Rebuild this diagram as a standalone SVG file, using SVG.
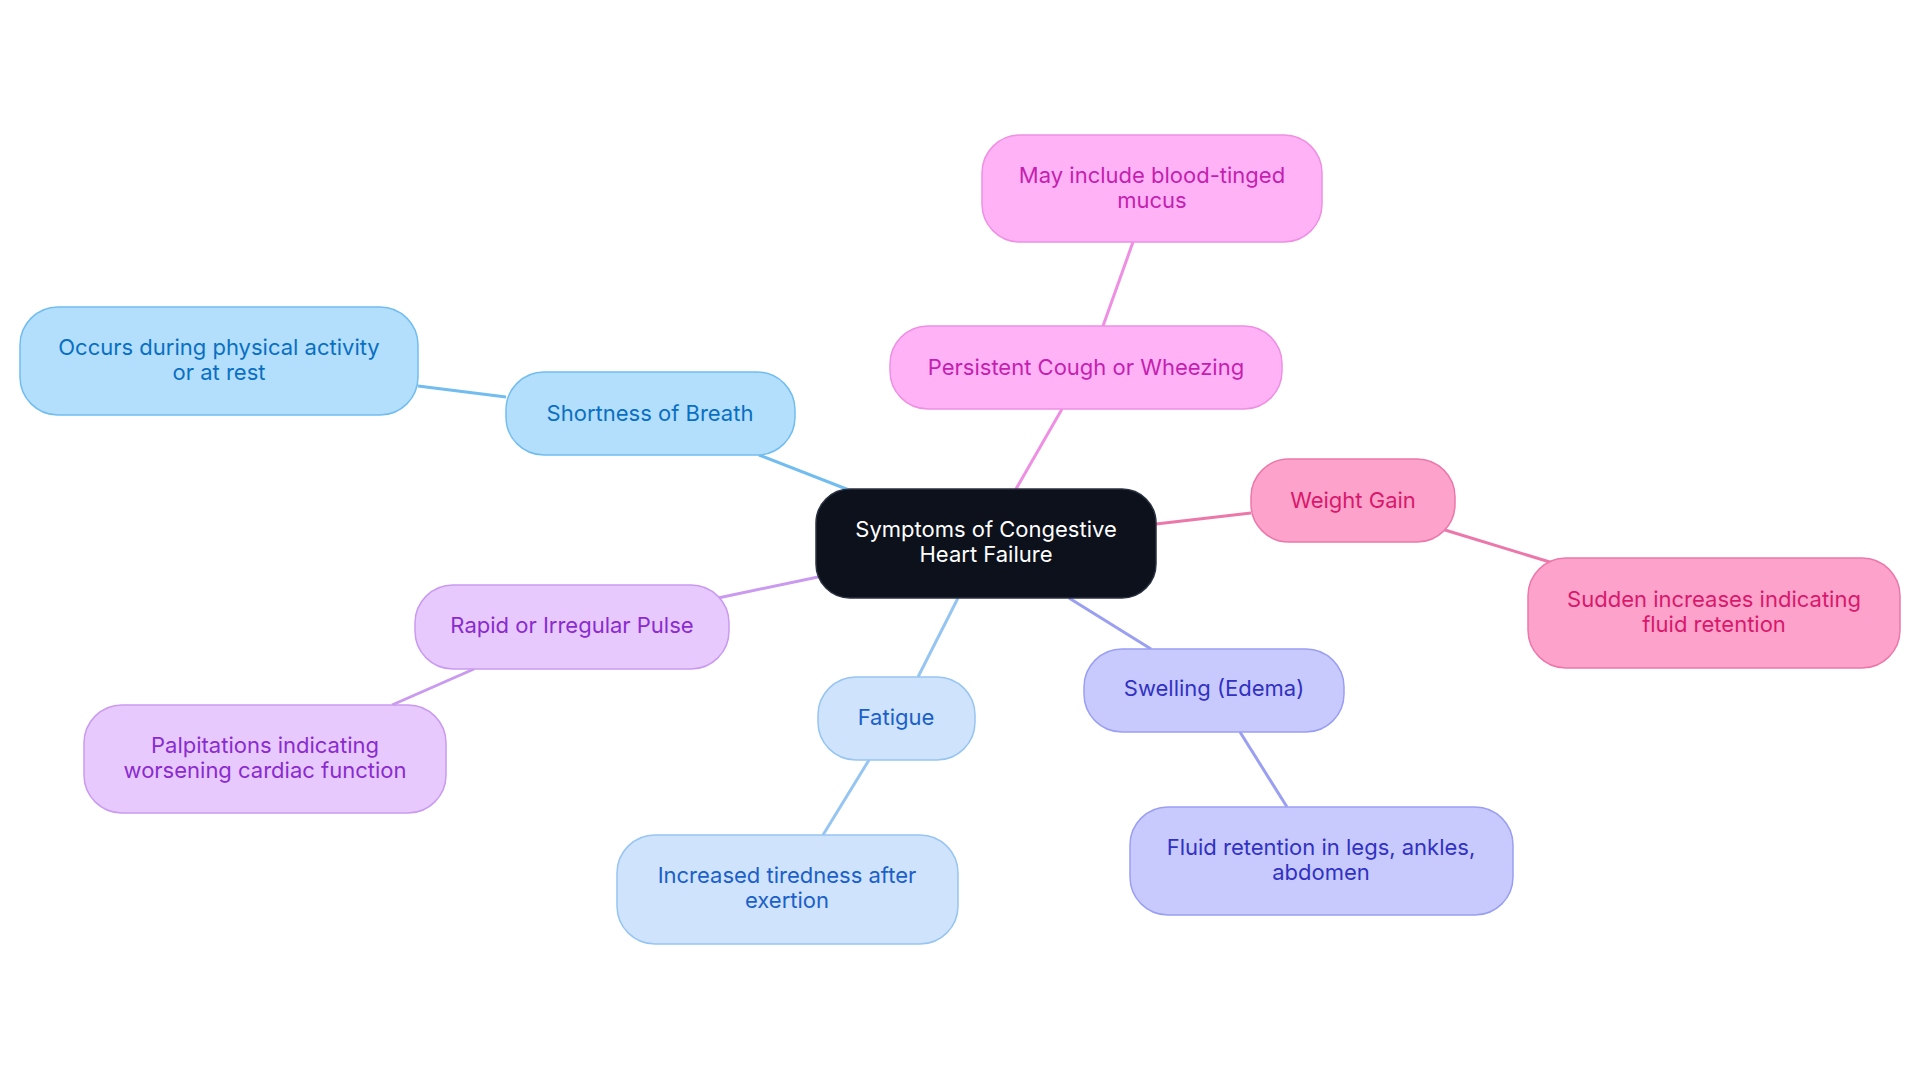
<svg xmlns="http://www.w3.org/2000/svg" width="1920" height="1083" viewBox="0 0 1920 1083">
<style>
text{font-family:Inter,"Noto Sans",sans-serif;font-size:22px;text-anchor:middle}
.e{fill:none;stroke-width:3}
.b rect{fill:#b3dffc;stroke:#72bdf0}.b text{fill:#0a6fc2}
.p rect{fill:#ffb3f6;stroke:#ef8fe3}.p text{fill:#c41fb0}
.w rect{fill:#fda3cb;stroke:#ec78ab}.w text{fill:#d8186c}
.s rect{fill:#c8cafd;stroke:#9a9ff2}.s text{fill:#3131c2}
.f rect{fill:#cfe3fc;stroke:#97c5f2}.f text{fill:#1a60c8}
.r rect{fill:#e8c9fd;stroke:#c99af0}.r text{fill:#8a2bd0}
rect{stroke-width:1.5}
</style>
<rect width="1920" height="1083" fill="#fff"/>
<g id="connectors">
<line class="e" stroke="#72bdf0" x1="849" y1="490" x2="759" y2="455"/>
<line class="e" stroke="#72bdf0" x1="506" y1="397" x2="418" y2="386"/>
<line class="e" stroke="#ef8fe3" x1="1016" y1="489" x2="1062" y2="409"/>
<line class="e" stroke="#ef8fe3" x1="1103" y1="326" x2="1133" y2="242"/>
<line class="e" stroke="#ec78ab" x1="1156" y1="524" x2="1251" y2="513"/>
<line class="e" stroke="#ec78ab" x1="1445" y1="530" x2="1553" y2="563"/>
<line class="e" stroke="#9a9ff2" x1="1069" y1="598" x2="1151" y2="649"/>
<line class="e" stroke="#9a9ff2" x1="1240" y1="732" x2="1287" y2="807"/>
<line class="e" stroke="#97c5f2" x1="958" y1="598" x2="918" y2="677"/>
<line class="e" stroke="#97c5f2" x1="869" y1="760" x2="823" y2="835"/>
<line class="e" stroke="#c99af0" x1="818" y1="577" x2="718" y2="598"/>
<line class="e" stroke="#c99af0" x1="474" y1="669" x2="392" y2="705"/>
</g>
<g id="central"><rect x="816" y="489" width="340" height="109" rx="34" fill="#0c111b" stroke="#2a3140"/><text x="986" y="537" fill="#fff">Symptoms of Congestive</text><text x="986" y="562" fill="#fff">Heart Failure</text></g>
<g id="sob" class="b"><rect x="506" y="372" width="289" height="83" rx="38"/><text x="650" y="421">Shortness of Breath</text></g>
<g id="occurs" class="b"><rect x="20" y="307" width="398" height="108" rx="38"/><text x="219" y="355">Occurs during physical activity</text><text x="219" y="380">or at rest</text></g>
<g id="cough" class="p"><rect x="890" y="326" width="392" height="83" rx="38"/><text x="1086" y="375">Persistent Cough or Wheezing</text></g>
<g id="mucus" class="p"><rect x="982" y="135" width="340" height="107" rx="38"/><text x="1152" y="183">May include blood-tinged</text><text x="1152" y="208">mucus</text></g>
<g id="weight" class="w"><rect x="1251" y="459" width="204" height="83" rx="38"/><text x="1353" y="508">Weight Gain</text></g>
<g id="sudden" class="w"><rect x="1528" y="558" width="372" height="110" rx="38"/><text x="1714" y="607">Sudden increases indicating</text><text x="1714" y="632">fluid retention</text></g>
<g id="swelling" class="s"><rect x="1084" y="649" width="260" height="83" rx="38"/><text x="1214" y="696">Swelling (Edema)</text></g>
<g id="fluid" class="s"><rect x="1130" y="807" width="383" height="108" rx="38"/><text x="1321" y="855">Fluid retention in legs, ankles,</text><text x="1321" y="880">abdomen</text></g>
<g id="fatigue" class="f"><rect x="818" y="677" width="157" height="83" rx="38"/><text x="896" y="725">Fatigue</text></g>
<g id="tired" class="f"><rect x="617" y="835" width="341" height="109" rx="38"/><text x="787" y="883">Increased tiredness after</text><text x="787" y="908">exertion</text></g>
<g id="pulse" class="r"><rect x="415" y="585" width="314" height="84" rx="38"/><text x="572" y="633">Rapid or Irregular Pulse</text></g>
<g id="palp" class="r"><rect x="84" y="705" width="362" height="108" rx="38"/><text x="265" y="753">Palpitations indicating</text><text x="265" y="778">worsening cardiac function</text></g>
</svg>
